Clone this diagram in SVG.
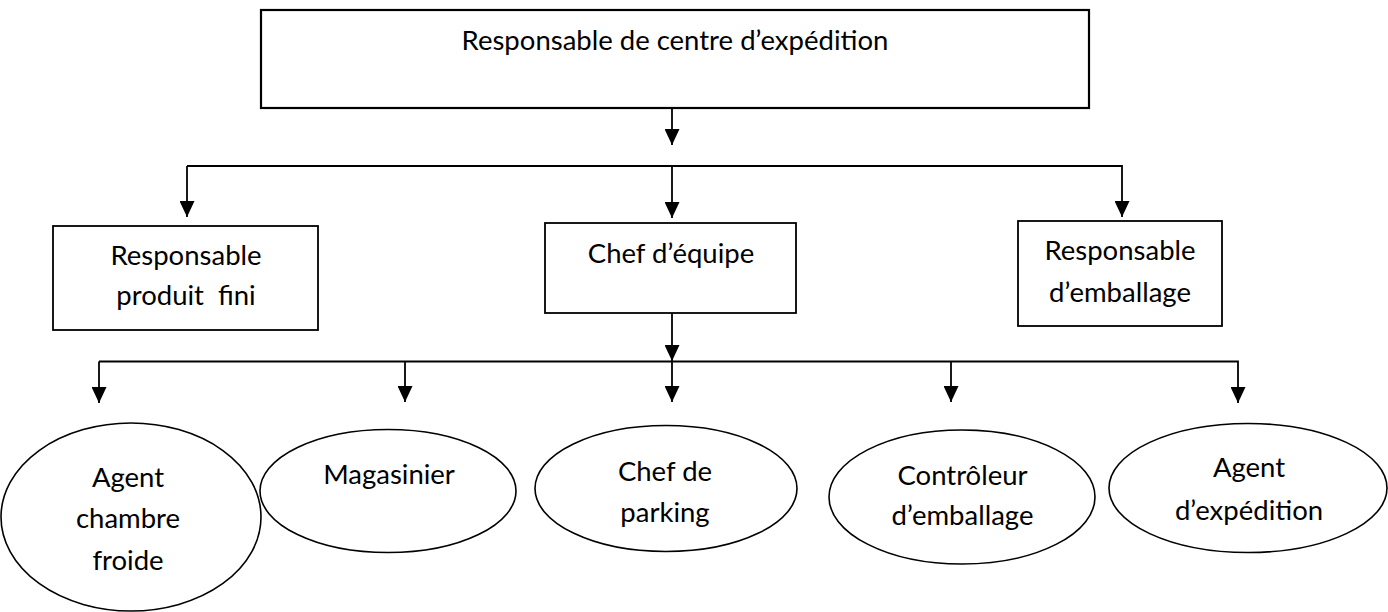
<svg xmlns="http://www.w3.org/2000/svg" width="1388" height="612" viewBox="0 0 1388 612">
<style>
.box{fill:#fff;stroke:#000;stroke-width:1.8}
.ell{fill:#fff;stroke:#000;stroke-width:1.6}
.t{font-family:Lato,"Liberation Sans",sans-serif;font-size:27.5px;fill:#000;text-anchor:middle}
.c{fill:none;stroke:#000;stroke-width:1.8}
</style>
<defs>
<marker id="ah" viewBox="0 0 16 15" refX="16" refY="7.5" markerWidth="16" markerHeight="15" markerUnits="userSpaceOnUse" orient="auto">
<path d="M0,0 L16,7.5 L0,15 z" fill="#000"/>
</marker>
</defs>
<rect width="1388" height="612" fill="#fff"/>
<g id="connectors">
<line class="c" x1="672" y1="108" x2="672" y2="145" marker-end="url(#ah)"/>
<path class="c" d="M187,166 H1122 V217" marker-end="url(#ah)"/>
<line class="c" x1="187" y1="166" x2="187" y2="217" marker-end="url(#ah)"/>
<line class="c" x1="672" y1="166" x2="672" y2="218" marker-end="url(#ah)"/>
<line class="c" x1="672" y1="313" x2="672" y2="361" marker-end="url(#ah)"/>
<path class="c" d="M99,361.5 H1238 V403" marker-end="url(#ah)"/>
<line class="c" x1="99" y1="361.5" x2="99" y2="403" marker-end="url(#ah)"/>
<line class="c" x1="405" y1="361.5" x2="405" y2="402" marker-end="url(#ah)"/>
<line class="c" x1="672" y1="361.5" x2="672" y2="402" marker-end="url(#ah)"/>
<line class="c" x1="951" y1="361.5" x2="951" y2="402" marker-end="url(#ah)"/>
</g>
<g id="n-top">
<rect class="box" x="261" y="10" width="828" height="98" style="stroke-width:2.2"/>
<text class="t" x="675" y="50">Responsable de centre d’expédition</text>
</g>
<g id="n-rpf">
<rect class="box" x="53" y="226" width="265" height="104"/>
<text class="t" x="186" y="265">Responsable</text>
<text class="t" x="186" y="305" xml:space="preserve">produit  fini</text>
</g>
<g id="n-chef">
<rect class="box" x="545" y="223" width="251" height="90"/>
<text class="t" x="671" y="263">Chef d’équipe</text>
</g>
<g id="n-remb">
<rect class="box" x="1018" y="221" width="204" height="105"/>
<text class="t" x="1120" y="260">Responsable</text>
<text class="t" x="1120" y="302">d’emballage</text>
</g>
<g id="n-acf">
<ellipse class="ell" cx="131" cy="517" rx="130" ry="94"/>
<text class="t" x="128" y="487">Agent</text>
<text class="t" x="128" y="528">chambre</text>
<text class="t" x="128" y="570">froide</text>
</g>
<g id="n-mag">
<ellipse class="ell" cx="388" cy="491" rx="128" ry="61.5"/>
<text class="t" x="389" y="484">Magasinier</text>
</g>
<g id="n-park">
<ellipse class="ell" cx="666" cy="488.5" rx="131" ry="63"/>
<text class="t" x="665" y="481">Chef de</text>
<text class="t" x="665" y="522">parking</text>
</g>
<g id="n-ctrl">
<ellipse class="ell" cx="962" cy="497" rx="133" ry="67"/>
<text class="t" x="962.5" y="485">Contrôleur</text>
<text class="t" x="962.5" y="525">d’emballage</text>
</g>
<g id="n-aexp">
<ellipse class="ell" cx="1248" cy="488" rx="139" ry="64.5"/>
<text class="t" x="1249" y="477">Agent</text>
<text class="t" x="1249" y="520">d’expédition</text>
</g>
</svg>
